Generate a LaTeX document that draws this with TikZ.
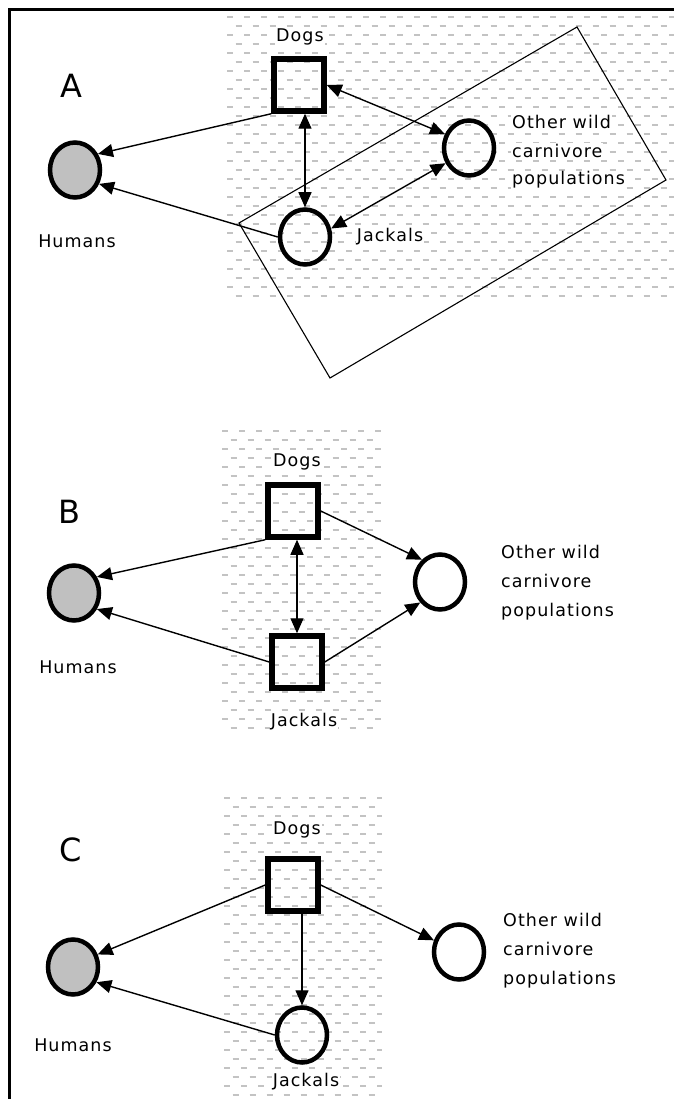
\documentclass[tikz,border=0pt]{standalone}
\usepackage{fontspec}
\setmainfont{DejaVu Sans}[LetterSpace=6]
\usetikzlibrary{shapes.geometric,arrows.meta}
\definecolor{humgray}{RGB}{192,192,192}
\definecolor{hatchgray}{RGB}{195,195,195}
\tikzset{
 hatchline/.style={draw=hatchgray, line width=1.8pt, dash pattern=on 6pt off 11pt},
 sqnode/.style={rectangle, draw, line width=5.5pt, minimum width=50pt, minimum height=52pt, inner sep=0pt},
 circnode/.style={ellipse, draw, line width=4.5pt, minimum width=50pt, minimum height=55pt, inner sep=0pt},
 humnode/.style={circnode, fill=humgray},
 lbl/.style={font=\fontsize{17.5}{29}\selectfont, fill=white, inner sep=1pt},
 lblplain/.style={font=\fontsize{17.5}{29}\selectfont, inner sep=1pt, align=left},
 panel/.style={font=\fontsize{32}{32}\selectfont, inner sep=0pt},
 conn/.style={line width=1.4pt, -{Triangle[length=15pt,width=13pt]}},
 biconn/.style={line width=1.4pt, {Triangle[length=15pt,width=13pt]}-{Triangle[length=15pt,width=13pt]}},
 frameline/.style={line width=3pt},
 zoneline/.style={line width=1.1pt}
}
\newcommand\hatchzone[5]{%
 \begin{scope}
 \clip (#1,#2) rectangle (#3,#4);
 \foreach \i in {0,...,40}{%
  \pgfmathsetmacro\yy{#5+9*\i}%
  \pgfmathsetmacro\ph{mod(\i,2)*8.5}%
  \draw[hatchline, dash phase=\ph pt] (#1,\yy) -- (#3,\yy);
 }
 \end{scope}}
\begin{document}
\begin{tikzpicture}[x=1pt,y=-1pt]
\fill[white] (0,0) rectangle (674,1099);
\useasboundingbox (0,0) rectangle (674,1099);
% frame
\draw[frameline] (9.5,1099) -- (9.5,9.5) -- (674,9.5);
% hatched zones
\hatchzone{227}{14}{674}{296}{17}
\hatchzone{222}{428}{382}{735}{431}
\hatchzone{224}{795}{382}{1099}{798}

% ---------------- Panel A ----------------
\draw[zoneline] (577,27) -- (666,180) -- (330,378) -- (239,223) -- cycle;
\node[panel] (pA) at (71,86) {A};
\node[humnode] (humansA) at (75,170) {};
\node[sqnode] (dogsA) at (299,85) {};
\node[circnode] (jackalsA) at (305,237) {};
\node[circnode] (otherA) at (469,148) {};
\node[lbl] (dogsAl) at (300,37) {Dogs};
\node[lblplain] (humansAl) at (77,241) {Humans};
\node[lbl] (jackalsAl) at (390,237) {Jackals};
\node[lbl, anchor=west] (otherAl1) at (511,122) {Other wild};
\node[lbl, anchor=west] (otherAl2) at (511,151) {carnivore};
\node[lbl, anchor=west] (otherAl3) at (511,180) {populations};
\draw[conn] (dogsA.south west) -- (humansA.35);
\draw[conn] (jackalsA.west) -- (humansA.-30);
\draw[biconn] (dogsA.south -| jackalsA.north) -- (jackalsA.north);
\draw[biconn] (dogsA.east) -- (otherA.150);
\draw[biconn] (jackalsA.18) -- (otherA.213);

% ---------------- Panel B ----------------
\node[panel] (pB) at (69,512) {B};
\node[humnode] (humansB) at (74,593) {};
\node[sqnode] (dogsB) at (293,511) {};
\node[sqnode] (jackalsB) at (297,662) {};
\node[circnode] (otherB) at (440,582) {};
\node[lbl] (dogsBl) at (297,462) {Dogs};
\node[lbl] (jackalsBl) at (304,722) {Jackals};
\node[lblplain] (humansBl) at (78,667) {Humans};
\node[lblplain, anchor=west] (otherBl) at (500,583) {Other wild\\carnivore\\populations};
\draw[conn] (dogsB.south west) -- (humansB.35);
\draw[conn] (jackalsB.west) -- (humansB.-35);
\draw[biconn] (dogsB.south -| jackalsB.north) -- (jackalsB.north);
\draw[conn] (dogsB.east) -- (otherB.129);
\draw[conn] (jackalsB.east) -- (otherB.226);

% ---------------- Panel C ----------------
\node[panel] (pC) at (71,850) {C};
\node[humnode] (humansC) at (73,967) {};
\node[sqnode] (dogsC) at (293,885) {};
\node[circnode] (jackalsC) at (302,1035) {};
\node[circnode] (otherC) at (459,952) {};
\node[lbl] (dogsCl) at (297,830) {Dogs};
\node[lbl] (jackalsCl) at (306,1082) {Jackals};
\node[lblplain] (humansCl) at (73,1045) {Humans};
\node[lblplain, anchor=west] (otherCl) at (502,951) {Other wild\\carnivore\\populations};
\draw[conn] (dogsC.west) -- (humansC.27);
\draw[conn] (jackalsC.west) -- (humansC.-33);
\draw[conn] (dogsC.south -| jackalsC.north) -- (jackalsC.north);
\draw[conn] (dogsC.east) -- (otherC.155);
\end{tikzpicture}
\end{document}
